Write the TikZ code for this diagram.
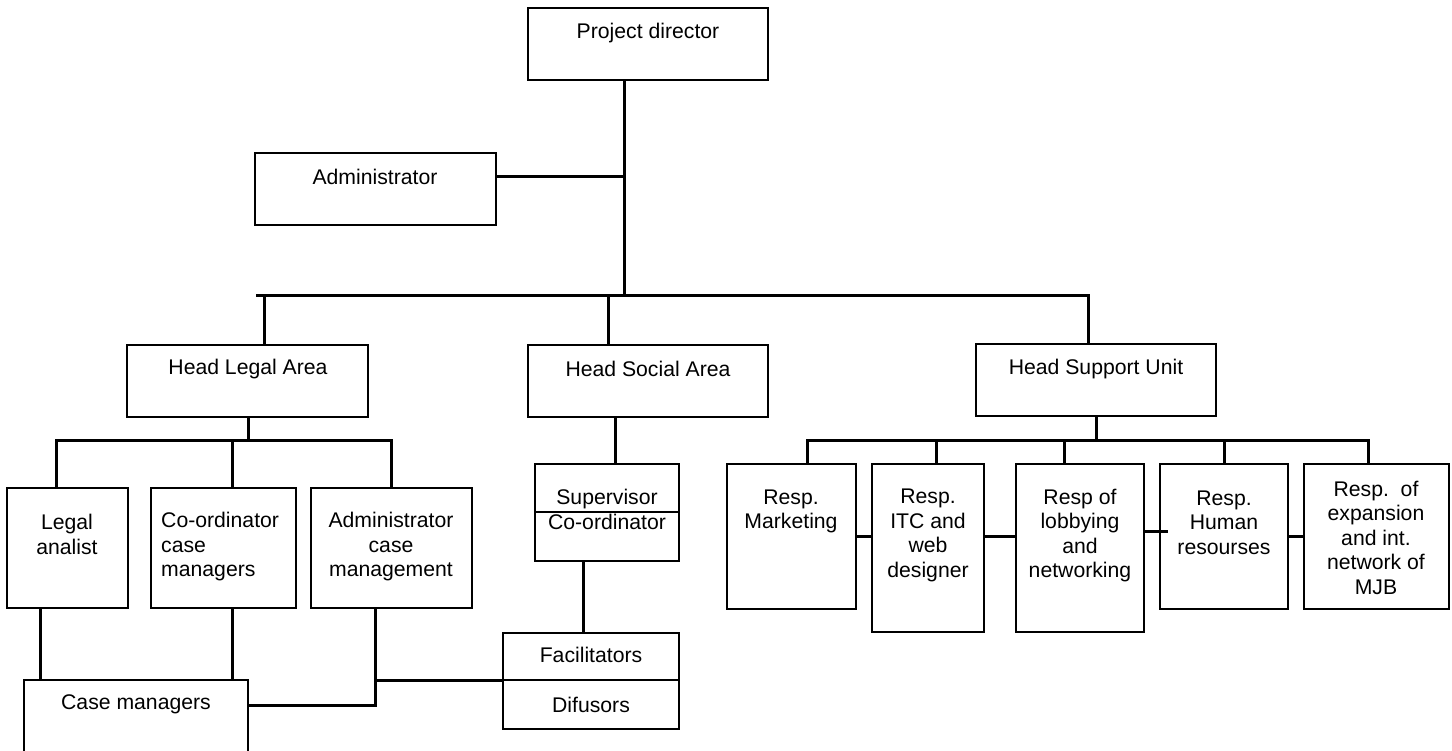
\documentclass[tikz,border=0pt]{standalone}
\usepackage{fontspec}
\setmainfont{Liberation Sans}
\usetikzlibrary{fit}
\begin{document}
\begin{tikzpicture}[x=1pt,y=-1pt,
  box/.style={draw,line width=1.3pt,inner sep=0pt,outer sep=0pt},
  divider/.style={line width=1.3pt},
  conn/.style={line width=3pt},
  lbl/.style={align=center,inner sep=0pt,font=\fontsize{21.2}{24.5}\selectfont},
  lbll/.style={lbl,align=left}]
\useasboundingbox (0,0) rectangle (1452,751);

% ---- boxes ----
\node[box,fit={(528,8) (768,80)}] (pd) {};
\node[box,fit={(255,153) (496,225)}] (adm) {};
\node[box,fit={(127,345) (368,417)}] (hla) {};
\node[box,fit={(528,345) (768,417)}] (hsa) {};
\node[box,fit={(976,344) (1216,416)}] (hsu) {};
\node[box,fit={(7,488) (128,608)}] (la) {};
\node[box,fit={(151,488) (296,608)}] (ccm) {};
\node[box,fit={(311,488) (472,608)}] (acm) {};
\node[box,fit={(535,464) (679,561)}] (sup) {};
\node[box,fit={(503,633) (679,729)}] (fac) {};
\node[box,fit={(24,680) (248,770)}] (cm) {};
\node[box,fit={(727,464) (856,609)}] (mkt) {};
\node[box,fit={(872,464) (984,632)}] (itc) {};
\node[box,fit={(1016,464) (1144,632)}] (lob) {};
\node[box,fit={(1160,464) (1288,609)}] (hum) {};
\node[box,fit={(1304,464) (1449,609)}] (exp) {};

% inner dividers
\draw[divider] (sup.west |- 0,512) -- (sup.east |- 0,512);
\draw[divider] (fac.west |- 0,680) -- (fac.east |- 0,680);

% ---- labels ----
\node[lbl] (tpd) at (648,33) {Project director};
\node[lbl] (tadm) at (375,177) {Administrator};
\node[lbl] (thla) at (248,369) {Head Legal Area};
\node[lbl] (thsa) at (648,369) {Head Social Area};
\node[lbl] (thsu) at (1096,369) {Head Support Unit};
\node[lbl] (tla) at (67,534.5) {Legal\\analist};
\node[lbll,anchor=west] (tccm) at (161,547) {Co-ordinator\\case\\managers};
\node[lbl] (tacm) at (391,547) {Administrator\\case\\management};
\node[lbl] (tsup) at (607,509.5) {Supervisor\\Co-ordinator};
\node[lbl] (tfac) at (591,655) {Facilitators};
\node[lbl] (tdif) at (591,705) {Difusors};
\node[lbl] (tcm) at (136,704) {Case managers};
\node[lbl] (tmkt) at (791,511.5) {Resp.\\Marketing};
\node[lbl] (titc) at (928,535.5) {Resp.\\ITC and\\web\\designer};
\node[lbl] (tlob) at (1080,535.5) {Resp of\\lobbying\\and\\networking};
\node[lbl] (thum) at (1224,522.5) {Resp.\\Human\\resourses};
\node[lbl] (texp) at (1376,537.5) {Resp.\ \ of\\expansion\\and int.\\network of\\MJB};

% ---- junction points ----
\coordinate (jpd) at (624,296);
\coordinate (jadm) at (624,177);
\coordinate (busL) at (256,296);
\coordinate (busR) at (1088,296);
\coordinate (jl1) at (264,296);
\coordinate (jl2) at (608,296);
\coordinate (legL) at (56,440);
\coordinate (legR) at (391,440);
\coordinate (jleg) at (232,440);
\coordinate (jhla) at (248,440);
\coordinate (supL) at (807,440);
\coordinate (supR) at (1368,440);
\coordinate (jsup) at (1096,440);
\coordinate (s2) at (936,440);
\coordinate (s3) at (1064,440);
\coordinate (s4) at (1224,440);
\coordinate (jacm) at (375,680);
\coordinate (kacm) at (375,705);

% ---- connectors: top level ----
\draw[conn] (pd.south -| jpd) -- (jpd);
\draw[conn] (adm.east |- jadm) -- (jadm);
\draw[conn] (busL) -- (busR) -- (hsu.north -| busR);
\draw[conn] (jl1) -- (hla.north -| jl1);
\draw[conn] (jl2) -- (hsa.north -| jl2);

% ---- legal area ----
\draw[conn] (hla.south -| jhla) -- (jhla);
\draw[conn] (la.north -| legL) -- (legL) -- (legR) -- (acm.north -| legR);
\draw[conn] (jleg) -- (ccm.north -| jleg);
\draw[conn] (la.south -| 40,0) -- (cm.north -| 40,0);
\draw[conn] (ccm.south -| jleg) -- (cm.north -| jleg);
\draw[conn] (acm.south -| jacm) -- (kacm) -- (cm.east |- kacm);
\draw[conn] (jacm) -- (fac.west |- jacm);

% ---- social area ----
\draw[conn] (hsa.south -| 615,0) -- (sup.north -| 615,0);
\draw[conn] (sup.south -| 583,0) -- (fac.north -| 583,0);

% ---- support unit ----
\draw[conn] (hsu.south -| jsup) -- (jsup);
\draw[conn] (mkt.north -| supL) -- (supL) -- (supR) -- (exp.north -| supR);
\draw[conn] (s2) -- (itc.north -| s2);
\draw[conn] (s3) -- (lob.north -| s3);
\draw[conn] (s4) -- (hum.north -| s4);
\draw[conn] (mkt.east |- 0,536) -- (itc.west |- 0,536);
\draw[conn] (itc.east |- 0,536) -- (lob.west |- 0,536);
\draw[conn] (lob.east |- 0,531) -- (1168,531);
\draw[conn] (hum.east |- 0,536) -- (exp.west |- 0,536);
\end{tikzpicture}
\end{document}
